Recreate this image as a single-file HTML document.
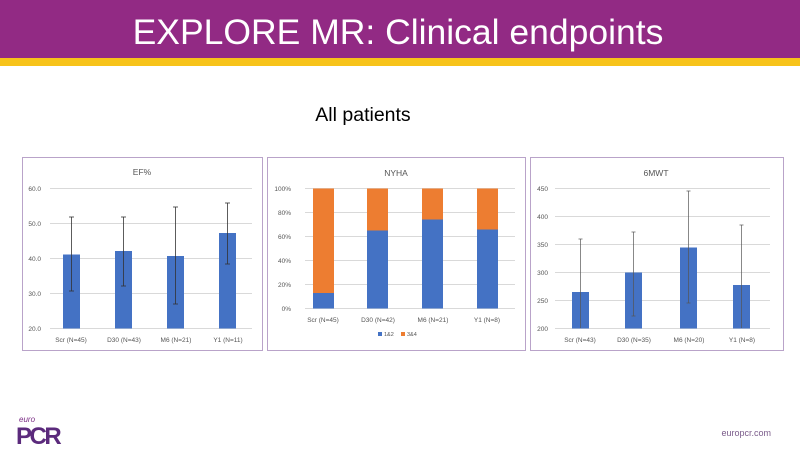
<!DOCTYPE html>
<html><head><meta charset="utf-8"><style>
body{margin:0;width:800px;height:450px;overflow:hidden;background:#fff;font-family:"Liberation Sans",sans-serif}
</style></head><body>
<svg width="800" height="450" xmlns="http://www.w3.org/2000/svg" font-family="Liberation Sans, sans-serif">
<rect x="0" y="0" width="800" height="58" fill="#922a84"/>
<rect x="0" y="58" width="800" height="8" fill="#f7c31a"/>
<text x="398" y="44" font-size="35.5" fill="#fff" text-anchor="middle">EXPLORE MR: Clinical endpoints</text>
<text x="363" y="121" font-size="19.5" fill="#000" text-anchor="middle">All patients</text>

<!-- Chart 1 -->
<rect x="22.5" y="157.5" width="240" height="193" fill="#fff" stroke="#b9a3c9"/>
<text x="142" y="175" font-size="8.5" fill="#555" text-anchor="middle">EF%</text>
<g stroke="#d9d9d9" stroke-width="1">
<line x1="50" x2="252" y1="188.5" y2="188.5"/><line x1="50" x2="252" y1="223.5" y2="223.5"/><line x1="50" x2="252" y1="258.5" y2="258.5"/><line x1="50" x2="252" y1="293.5" y2="293.5"/><line x1="50" x2="252" y1="328.5" y2="328.5"/></g>
<g font-size="6.5" fill="#555" text-anchor="end"><text x="41" y="191">60.0</text><text x="41" y="226">50.0</text><text x="41" y="261">40.0</text><text x="41" y="296">30.0</text><text x="41" y="331">20.0</text></g>
<g fill="#4472c4"><rect x="63" y="254.5" width="17" height="74"/><rect x="115" y="251" width="17" height="77.5"/><rect x="167" y="256" width="17" height="72.5"/><rect x="219" y="233" width="17" height="95.5"/></g>
<g stroke="#333" stroke-width="0.8">
<line x1="71.5" x2="71.5" y1="217" y2="291"/><line x1="69" x2="74" y1="217" y2="217"/><line x1="69" x2="74" y1="291" y2="291"/>
<line x1="123.5" x2="123.5" y1="217" y2="286"/><line x1="121" x2="126" y1="217" y2="217"/><line x1="121" x2="126" y1="286" y2="286"/>
<line x1="175.5" x2="175.5" y1="207" y2="304"/><line x1="173" x2="178" y1="207" y2="207"/><line x1="173" x2="178" y1="304" y2="304"/>
<line x1="227.5" x2="227.5" y1="203" y2="264"/><line x1="225" x2="230" y1="203" y2="203"/><line x1="225" x2="230" y1="264" y2="264"/></g>
<g font-size="6.5" fill="#555" text-anchor="middle"><text x="71" y="342">Scr (N=45)</text><text x="124" y="342">D30 (N=43)</text><text x="176" y="342">M6 (N=21)</text><text x="228" y="342">Y1 (N=11)</text></g>

<!-- Chart 2 -->
<rect x="267.5" y="157.5" width="258" height="193" fill="#fff" stroke="#b9a3c9"/>
<text x="396" y="176" font-size="8.5" fill="#555" text-anchor="middle">NYHA</text>
<g stroke="#d9d9d9"><line x1="305" x2="515" y1="188.5" y2="188.5"/><line x1="305" x2="515" y1="212.5" y2="212.5"/><line x1="305" x2="515" y1="236.5" y2="236.5"/><line x1="305" x2="515" y1="260.5" y2="260.5"/><line x1="305" x2="515" y1="284.5" y2="284.5"/><line x1="305" x2="515" y1="308.5" y2="308.5"/></g>
<g font-size="6.5" fill="#555" text-anchor="end"><text x="291" y="191">100%</text><text x="291" y="215">80%</text><text x="291" y="239">60%</text><text x="291" y="263">40%</text><text x="291" y="287">20%</text><text x="291" y="311">0%</text></g>
<g fill="#ed7d31"><rect x="313" y="188.5" width="21" height="120"/><rect x="367" y="188.5" width="21" height="120"/><rect x="422" y="188.5" width="21" height="120"/><rect x="477" y="188.5" width="21" height="120"/></g>
<g fill="#4472c4"><rect x="313" y="293" width="21" height="15.5"/><rect x="367" y="230.5" width="21" height="78"/><rect x="422" y="219.5" width="21" height="89"/><rect x="477" y="229.5" width="21" height="79"/></g>
<g font-size="6.5" fill="#555" text-anchor="middle"><text x="323" y="322">Scr (N=45)</text><text x="378" y="322">D30 (N=42)</text><text x="433" y="322">M6 (N=21)</text><text x="487" y="322">Y1 (N=8)</text></g>
<rect x="378" y="332" width="4" height="4" fill="#4472c4"/><text x="384" y="336" font-size="5.5" fill="#555">1&amp;2</text>
<rect x="401" y="332" width="4" height="4" fill="#ed7d31"/><text x="407" y="336" font-size="5.5" fill="#555">3&amp;4</text>

<!-- Chart 3 -->
<rect x="530.5" y="157.5" width="253" height="193" fill="#fff" stroke="#b9a3c9"/>
<text x="656" y="176" font-size="8.5" fill="#555" text-anchor="middle">6MWT</text>
<g stroke="#d9d9d9"><line x1="555" x2="770" y1="188.5" y2="188.5"/><line x1="555" x2="770" y1="216.5" y2="216.5"/><line x1="555" x2="770" y1="244.5" y2="244.5"/><line x1="555" x2="770" y1="272.5" y2="272.5"/><line x1="555" x2="770" y1="300.5" y2="300.5"/><line x1="555" x2="770" y1="328.5" y2="328.5"/></g>
<g font-size="6.5" fill="#555" text-anchor="end"><text x="548" y="191">450</text><text x="548" y="219">400</text><text x="548" y="247">350</text><text x="548" y="275">300</text><text x="548" y="303">250</text><text x="548" y="331">200</text></g>
<g fill="#4472c4"><rect x="572" y="292" width="17" height="36.5"/><rect x="625" y="272.5" width="17" height="56"/><rect x="680" y="247.5" width="17" height="81"/><rect x="733" y="285" width="17" height="43.5"/></g>
<g stroke="#555" stroke-width="0.7">
<line x1="580.5" x2="580.5" y1="239" y2="328"/><line x1="578.5" x2="582.5" y1="239" y2="239"/>
<line x1="633.5" x2="633.5" y1="232" y2="316"/><line x1="631.5" x2="635.5" y1="232" y2="232"/><line x1="631.5" x2="635.5" y1="316" y2="316"/>
<line x1="688.5" x2="688.5" y1="191" y2="303"/><line x1="686.5" x2="690.5" y1="191" y2="191"/><line x1="686.5" x2="690.5" y1="303" y2="303"/>
<line x1="741.5" x2="741.5" y1="225" y2="328"/><line x1="739.5" x2="743.5" y1="225" y2="225"/></g>
<g font-size="6.5" fill="#555" text-anchor="middle"><text x="580" y="342">Scr (N=43)</text><text x="634" y="342">D30 (N=35)</text><text x="689" y="342">M6 (N=20)</text><text x="742" y="342">Y1 (N=8)</text></g>

<!-- footer -->
<text x="19" y="422" font-size="8" fill="#7b2d85" font-style="italic">euro</text>
<text x="16" y="444" font-size="24" font-weight="bold" fill="#5b2a7c" letter-spacing="-2.5">PCR</text>
<text x="771" y="436" font-size="9" fill="#7a5b8a" text-anchor="end">europcr.com</text>
</svg>
</body></html>
